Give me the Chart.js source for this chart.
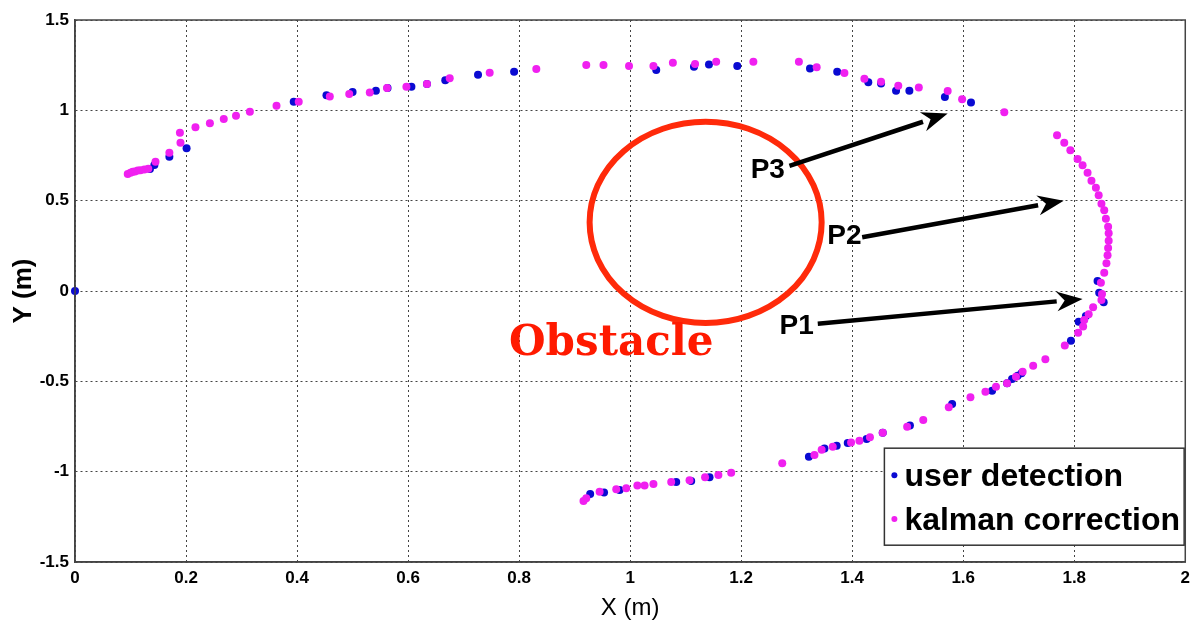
<!DOCTYPE html>
<html><head><meta charset="utf-8">
<script src="https://cdn.jsdelivr.net/npm/chart.js@4.4.1/dist/chart.umd.min.js"></script>
<style>html,body{margin:0;padding:0;background:#fff;}#wrap{width:1196px;height:623px;}</style>
</head><body><div id="wrap"><canvas id="c" width="1196" height="623"></canvas></div>
<script>
const xTicks = [0,0.2,0.4,0.6,0.8,1,1.2,1.4,1.6,1.8,2];
const yTicks = [-1.5,-1,-0.5,0,0.5,1,1.5];
const userX = [0,0.135,0.143,0.170,0.201,0.394,0.453,0.500,0.542,0.563,0.606,0.634,0.667,0.726,0.791,1.047,1.115,1.142,1.193,1.324,1.373,1.429,1.452,1.479,1.503,1.567,1.614,1.842,1.845,1.853,1.821,1.808,1.794,1.705,1.698,1.688,1.679,1.652,1.580,1.504,1.455,1.426,1.392,1.372,1.350,1.322,1.143,1.110,1.083,0.981,0.953,0.928];
const userY = [0,0.675,0.697,0.743,0.790,1.048,1.083,1.101,1.109,1.123,1.130,1.146,1.166,1.197,1.214,1.223,1.241,1.254,1.245,1.232,1.213,1.155,1.149,1.108,1.108,1.074,1.044,0.055,-0.009,-0.062,-0.138,-0.170,-0.275,-0.455,-0.469,-0.487,-0.511,-0.552,-0.625,-0.745,-0.784,-0.819,-0.842,-0.856,-0.872,-0.917,-1.031,-1.051,-1.057,-1.101,-1.116,-1.123];
const kalX = [0.095,0.100,0.104,0.108,0.113,0.118,0.125,0.132,0.145,0.170,0.190,0.189,0.217,0.243,0.268,0.290,0.315,0.363,0.403,0.459,0.494,0.531,0.562,0.597,0.634,0.675,0.747,0.831,0.921,0.952,0.998,1.042,1.077,1.117,1.155,1.222,1.304,1.336,1.386,1.422,1.452,1.483,1.520,1.572,1.598,1.674,1.769,1.782,1.793,1.806,1.815,1.824,1.831,1.839,1.844,1.849,1.854,1.857,1.861,1.862,1.862,1.861,1.860,1.858,1.854,1.848,1.850,1.849,1.834,1.826,1.818,1.816,1.807,1.783,1.748,1.726,1.707,1.695,1.679,1.659,1.640,1.613,1.574,1.528,1.499,1.455,1.432,1.413,1.398,1.365,1.345,1.332,1.274,1.182,1.159,1.135,1.107,1.074,1.042,1.026,1.013,0.993,0.975,0.945,0.921,0.916];
const kalY = [0.648,0.655,0.660,0.662,0.667,0.668,0.672,0.676,0.716,0.765,0.820,0.876,0.906,0.928,0.952,0.970,0.992,1.026,1.048,1.076,1.090,1.099,1.123,1.130,1.146,1.177,1.208,1.229,1.251,1.251,1.245,1.245,1.263,1.256,1.269,1.269,1.269,1.238,1.207,1.175,1.158,1.136,1.127,1.107,1.061,0.989,0.862,0.821,0.779,0.731,0.696,0.655,0.610,0.572,0.530,0.483,0.447,0.400,0.356,0.319,0.278,0.238,0.198,0.153,0.101,0.046,-0.017,-0.050,-0.090,-0.129,-0.160,-0.197,-0.231,-0.301,-0.378,-0.414,-0.447,-0.474,-0.511,-0.530,-0.557,-0.588,-0.644,-0.714,-0.751,-0.784,-0.810,-0.829,-0.838,-0.862,-0.878,-0.908,-0.954,-1.006,-1.018,-1.031,-1.048,-1.057,-1.068,-1.077,-1.077,-1.092,-1.097,-1.111,-1.147,-1.162];
const seriesNames = ['user detection','kalman correction'];
const arrowLabels = ['P1','P2','P3'];
const obstacleLabel = 'Obstacle';

const toPts = (xs, ys) => xs.map((x,i)=>({x:x,y:ys[i]}));
const BLUE = '#0a0ad2', PINK = '#f020f0';
const SANS = '"Liberation Sans", Arial, sans-serif';

const annot = {
  id:'annot',
  afterDatasetsDraw(chart){
    const ctx = chart.ctx, sx = chart.scales.x, sy = chart.scales.y;
    const P = (x,y)=>[sx.getPixelForValue(x), sy.getPixelForValue(y)];
    ctx.save();
    const [cx,cy] = P(1.136,0.380);
    const rx = sx.getPixelForValue(1.136+0.209)-cx;
    const ry = sy.getPixelForValue(0.380-0.557)-cy;
    ctx.beginPath(); ctx.ellipse(cx,cy,rx,ry,0,0,Math.PI*2);
    ctx.strokeStyle='#ff2a0a'; ctx.lineWidth=6; ctx.stroke();
    ctx.fillStyle='#ff1a00'; ctx.font='bold 42px "DejaVu Serif", serif';
    ctx.textAlign='center'; ctx.textBaseline='middle';
    let [tx,ty]=P(0.966,-0.292); ctx.fillText(obstacleLabel,tx,ty);
    const arrows=[
      {lab:arrowLabels[0], t:[1.300,-0.194], a:[1.338,-0.181], b:[1.815,-0.044]},
      {lab:arrowLabels[1], t:[1.386,0.304], a:[1.418,0.298], b:[1.781,0.500]},
      {lab:arrowLabels[2], t:[1.248,0.670], a:[1.287,0.692], b:[1.572,0.982]}
    ];
    ctx.font='bold 28px '+SANS;
    ctx.fillStyle='#000'; ctx.strokeStyle='#000';
    arrows.forEach(o=>{
      const [lx,ly]=P(o.t[0],o.t[1]);
      ctx.fillText(o.lab,lx,ly);
      const [x1,y1]=P(o.a[0],o.a[1]); const [x2,y2]=P(o.b[0],o.b[1]);
      const ang=Math.atan2(y2-y1,x2-x1), L=26, W=10;
      const bx=x2-L*Math.cos(ang), by=y2-L*Math.sin(ang);
      ctx.beginPath(); ctx.moveTo(x1,y1); ctx.lineTo(bx,by); ctx.lineWidth=4.5; ctx.stroke();
      ctx.beginPath(); ctx.moveTo(x2,y2);
      ctx.lineTo(bx+W*Math.sin(ang), by-W*Math.cos(ang));
      ctx.lineTo(bx+8*Math.cos(ang), by+8*Math.sin(ang));
      ctx.lineTo(bx-W*Math.sin(ang), by+W*Math.cos(ang));
      ctx.closePath(); ctx.fill();
    });
    const lx0=sx.getPixelForValue(1.458), lx1=sx.getPixelForValue(1.998);
    const ly0=sy.getPixelForValue(-0.870), ly1=sy.getPixelForValue(-1.407);
    ctx.fillStyle='#fff'; ctx.fillRect(lx0,ly0,lx1-lx0,ly1-ly0);
    ctx.strokeStyle='#333'; ctx.lineWidth=1.5; ctx.strokeRect(lx0,ly0,lx1-lx0,ly1-ly0);
    ctx.font='bold 32px '+SANS;
    ctx.textAlign='left'; ctx.textBaseline='middle';
    const rows=[[seriesNames[0],BLUE,0.30],[seriesNames[1],PINK,0.75]];
    rows.forEach(r=>{
      const yy=ly0+(ly1-ly0)*r[2];
      ctx.fillStyle=r[1]; ctx.beginPath(); ctx.arc(lx0+10,yy-2,3,0,Math.PI*2); ctx.fill();
      ctx.fillStyle='#000'; ctx.fillText(r[0],lx0+20,yy);
    });
    ctx.restore();
  }
};

new Chart(document.getElementById('c'),{
  type:'scatter',
  data:{datasets:[
    {label:seriesNames[1], data:toPts(kalX,kalY), backgroundColor:PINK, borderColor:PINK, pointRadius:4, borderWidth:0},
    {label:seriesNames[0], data:toPts(userX,userY), backgroundColor:BLUE, borderColor:BLUE, pointRadius:4, borderWidth:0}
  ]},
  options:{
    responsive:false, animation:false, devicePixelRatio:1,
    layout:{padding:{left:0,right:10,top:20,bottom:0}},
    plugins:{legend:{display:false}, tooltip:{enabled:false}},
    clip:false,
    scales:{
      x:{type:'linear', min:0, max:2,
        afterBuildTicks(s){ s.ticks = xTicks.map(v=>({value:v})); },
        afterFit(s){ s.height=61; },
        grid:{color:'#444', lineWidth:1, drawTicks:false},
        border:{display:true,color:'#444',width:1.5, dash:[2,3]},
        ticks:{color:'#000', padding:6, font:{family:SANS, size:17, weight:'bold'}, callback:v=>String(v), maxRotation:0, autoSkip:false},
        title:{display:true, text:'X (m)', color:'#000', padding:{top:0,bottom:0}, font:{family:SANS, size:24}}
      },
      y:{type:'linear', min:-1.5, max:1.5,
        afterBuildTicks(s){ s.ticks = yTicks.map(v=>({value:v})); },
        afterFit(s){ s.width=75; },
        grid:{color:'#444', lineWidth:1, drawTicks:false},
        border:{display:true,color:'#444',width:1.5, dash:[2,3]},
        ticks:{color:'#000', padding:6, font:{family:SANS, size:17, weight:'bold'}, callback:v=>String(v), autoSkip:false},
        title:{display:true, text:'Y (m)', color:'#000', padding:{top:8,bottom:0}, font:{family:SANS, size:26, weight:'bold'}}
      }
    }
  },
  plugins:[{
    id:'frame',
    afterDraw(chart){
      const a=chart.chartArea, ctx=chart.ctx;
      ctx.save(); ctx.setLineDash([]); ctx.strokeStyle='#444'; ctx.lineWidth=1.5;
      ctx.strokeRect(a.left,a.top,a.right-a.left,a.bottom-a.top); ctx.restore();
    }
  }, annot]
});
</script></body></html>
